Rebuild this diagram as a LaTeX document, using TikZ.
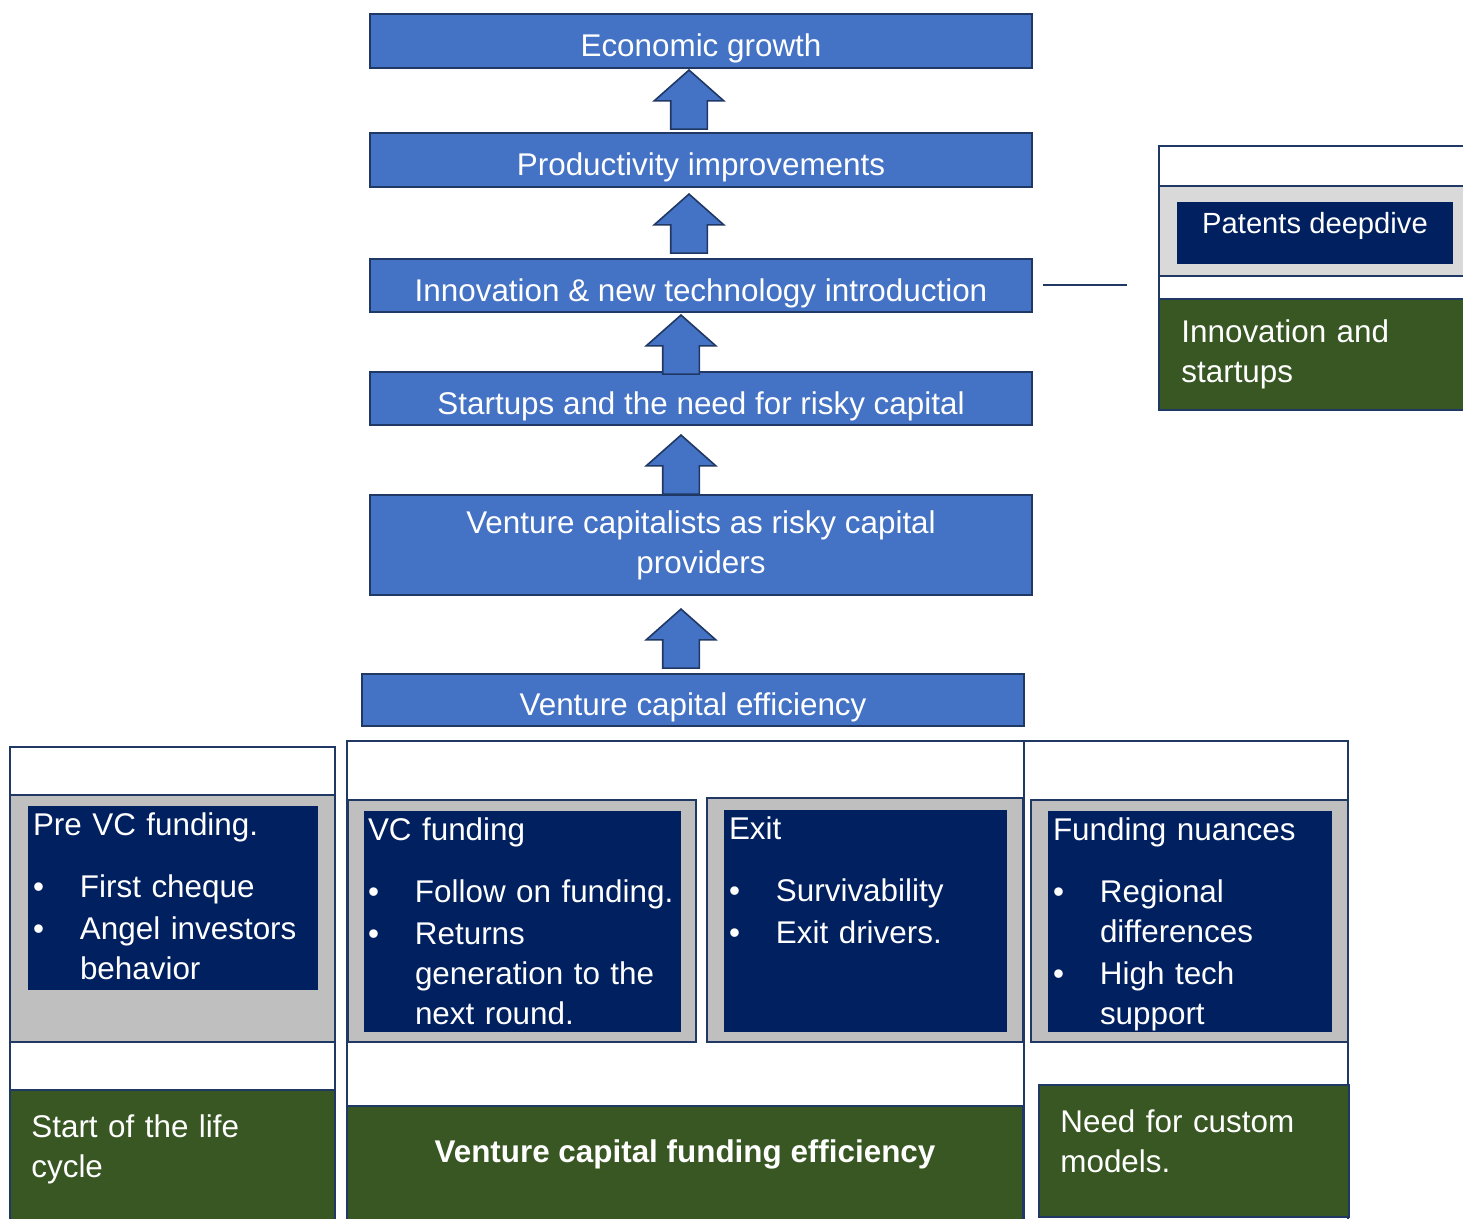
\documentclass[tikz,border=0pt]{standalone}
\usepackage{xcolor}
\usepackage{fontspec}
\setmainfont{Liberation Sans}
\usepackage{tikz}
\usetikzlibrary{shapes.arrows, arrows.meta, fit, positioning, calc}
\definecolor{stageblue}{HTML}{4472C4}
\definecolor{edgenavy}{HTML}{1F3864}
\definecolor{deepnavy}{HTML}{002060}
\definecolor{bandgray}{HTML}{BFBFBF}
\definecolor{palegray}{HTML}{D9D9D9}
\definecolor{leafgreen}{HTML}{385723}
\newcommand{\boxfont}{\fontsize{15.7}{20}\selectfont}
\newcommand{\bitem}[1]{\par\vspace{1pt}\noindent\makebox[23.5pt][l]{\textbullet}#1}
\newcommand{\bline}[1]{\par\noindent\hspace*{23.5pt}#1}
\tikzstyle{stage} = [rectangle, draw=edgenavy, line width=1pt, fill=stageblue, text=white, minimum width=331pt, align=center, font=\boxfont]
\tikzstyle{oneline} = [text height=15.9pt, text depth=0pt]
\tikzstyle{uparrow} = [single arrow, rotate=90, draw=edgenavy, line width=0.8pt, fill=stageblue, minimum height=29.5pt, inner xsep=0pt, inner ysep=8.75pt, single arrow head extend=8.25pt, single arrow tip angle=97]
\tikzstyle{frame} = [rectangle, draw=edgenavy, line width=1pt, fill=white, inner sep=0pt]
\tikzstyle{band} = [frame, fill=bandgray]
\tikzstyle{panel} = [rectangle, fill=deepnavy, inner sep=0pt]
\tikzstyle{leaf} = [frame, fill=leafgreen]
\tikzstyle{note} = [text=white, inner sep=0pt, text width=170pt, align=left, font=\boxfont]
\tikzstyle{link} = [draw=edgenavy, line width=1pt]

\begin{document}
\begin{tikzpicture}[x=0.5pt, y=-0.5pt]
              \clip (0,0) rectangle (1463,1219);

              \node[stage, oneline, minimum height=27pt] (growth) at (701,41) {Economic growth};
              \node[stage, oneline, minimum height=27pt] (product) at (701,160) {Productivity improvements};
              \node[stage, oneline, minimum height=26.5pt] (innov) at (701,285.5) {Innovation \& new technology introduction};
              \node[stage, oneline, minimum height=26.5pt] (startup) at (701,398.5) {Startups and the need for risky capital};
              \node[stage, minimum height=50pt] (vcprov) at (701,545) {Venture capitalists as risky capital\\providers};
              \node[stage, oneline, minimum height=26pt] (vceff) at (693,700) {Venture capital efficiency};

              \node[uparrow, anchor=tip] (up-1) at ([xshift=-6pt]growth.south) {};
              \node[uparrow, anchor=tip] (up-2) at ([xshift=-6pt, yshift=-2.5pt]product.south) {};
              \node[uparrow, anchor=tip] (up-3) at ([xshift=-10pt, yshift=-0.5pt]innov.south) {};
              \node[uparrow, anchor=tip] (up-4) at ([xshift=-10pt, yshift=-4pt]startup.south) {};
              \node[uparrow, anchor=tip] (up-5) at ([xshift=-10pt, yshift=-6pt]vcprov.south) {};

              \node[frame, fit={(1159,146) (1475,410)}] (patgrp) {};
              \node[frame, fill=palegray, fit={(1159,186) (1475,276)}] (patband) {};
              \node[panel, fit={(1177,202) (1453,264)}] (patent) {};
              \node[text=white, inner sep=0pt, font=\fontsize{14.6}{18}\selectfont, below=5pt of patent.north] (patenttxt) {Patents deepdive};
              \node[leaf, fit={(1159,299) (1475,410)}] (innleaf) {};
              \node[note, below right=10.5pt and 11.5pt of innleaf.north west] (innleaftxt) {Innovation and\\startups};

              \draw[link] ([xshift=5pt]innov.east) -- ([xshift=-15.5pt]patgrp.west |- innov.east);

              \node[frame, fit={(347,741) (1024,1240)}] (midcol) {};
              \node[frame, fit={(1024,741) (1348,1240)}] (rightcol) {};
              \node[frame, fit={(10,747) (335,1240)}] (leftcol) {};

              \node[band, fit={(10,795) (335,1042)}] (preband) {};
              \node[band, fit={(348,800) (696,1042)}] (vcband) {};
              \node[band, fit={(707,798) (1023,1042)}] (exitband) {};
              \node[band, fit={(1031,800) (1348,1042)}] (nuanband) {};

              \node[panel, fit={(28,806) (318,990)}] (pre) {};
              \node[panel, fit={(364,811) (681,1032)}] (vcf) {};
              \node[panel, fit={(724,810) (1007,1032)}] (exit) {};
              \node[panel, fit={(1048,811) (1332,1032)}] (nuan) {};

              \node[note, below right=3.5pt and 2.5pt of pre.north west] (pretxt) {Pre VC funding.\par\vspace{10pt}\bitem{First cheque}\bitem{Angel investors}\bline{behavior}};
              \node[note, below right=3.5pt and 2pt of vcf.north west] (vcftxt) {VC funding\par\vspace{10pt}\bitem{Follow on funding.}\bitem{Returns}\bline{generation to the}\bline{next round.}};
              \node[note, below right=3.5pt and 2.5pt of exit.north west] (exittxt) {Exit\par\vspace{10pt}\bitem{Survivability}\bitem{Exit drivers.}};
              \node[note, below right=3.5pt and 2.5pt of nuan.north west] (nuantxt) {Funding nuances\par\vspace{10pt}\bitem{Regional}\bline{differences}\bitem{High tech}\bline{support}};

              \node[leaf, fit={(10,1090) (335,1240)}] (startleaf) {};
              \node[leaf, fit={(347,1106) (1023,1240)}] (effleaf) {};
              \node[leaf, fit={(1039,1085) (1349,1217)}] (customleaf) {};

              \node[note, below right=12.5pt and 11pt of startleaf.north west] (starttxt) {Start of the life\\cycle};
              \node[text=white, inner sep=0pt, font=\boxfont\bfseries, below=17pt of effleaf.north] (efftxt) {Venture capital funding efficiency};
              \node[note, below right=12.5pt and 11pt of customleaf.north west] (customtxt) {Need for custom\\models.};

          \end{tikzpicture}
\end{document}
